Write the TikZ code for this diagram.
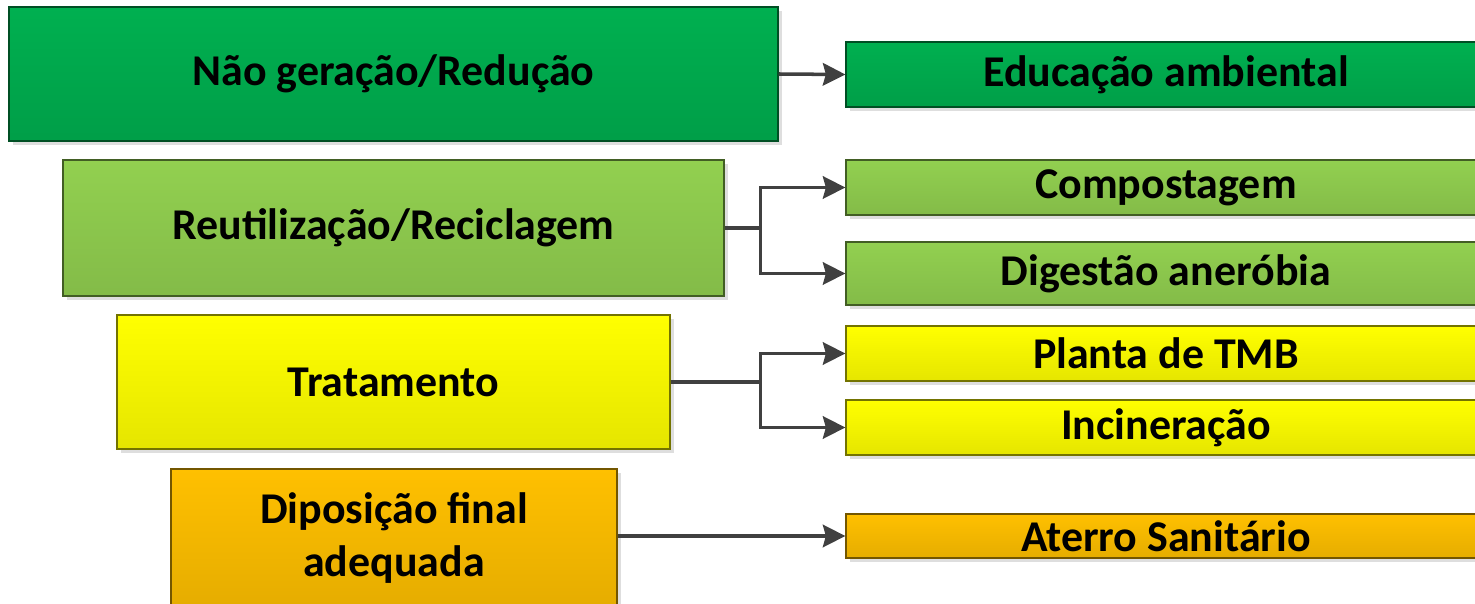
\documentclass[tikz,border=0pt]{standalone}
\usepackage{fontspec}
\setmainfont{Carlito}
\usepackage{tikz}
\usetikzlibrary{arrows.meta, positioning, shadows}

\definecolor{verdeA}{HTML}{00B050}
\definecolor{verdeB}{HTML}{92D050}
\definecolor{amarelo}{HTML}{FFFF00}
\definecolor{laranja}{HTML}{FFC000}
\definecolor{linha}{HTML}{404040}

\begin{document}
\begin{tikzpicture}[
        x=0.02cm, y=-0.02cm,
        nivel/.style={rectangle, draw=#1!45!black, line width=0.8pt,
            top color=#1, bottom color=#1!90!black,
            drop shadow={shadow xshift=0.08cm, shadow yshift=-0.08cm, fill=black!13, opacity=1},
            font=\fontsize{25}{30.5}\selectfont\bfseries, align=center, inner sep=0pt},
        acao/.style={nivel=#1, minimum width=12.8cm},
        arrow/.style={-{Stealth[length=0.45cm, width=0.45cm, inset=0.06cm]}, draw=linha, line width=2pt},
        ramo/.style={draw=linha, line width=2pt}
    ]
        \useasboundingbox (0,0) rectangle (1475,604);

        % hierarquia
        \node[nivel=verdeA, minimum width=15.38cm, minimum height=2.68cm] (naoger) at (393.5,74) {Não geração/Redução};
        \node[nivel=verdeB, minimum width=13.22cm, minimum height=2.72cm] (reuso) at (393.5,228) {Reutilização/Reciclagem};
        \node[nivel=amarelo, minimum width=11.06cm, minimum height=2.68cm] (trat) at (393.5,382) {Tratamento};
        \node[nivel=laranja, minimum width=8.92cm, minimum height=2.76cm] (dispos) at (394,538) {Diposição final\\adequada};

        % acoes
        \node[acao=verdeA, minimum height=1.3cm] (educ) at (1166,74.5) {Educação ambiental};
        \node[acao=verdeB, minimum height=1.1cm] (compost) at (1166,187.5) {Compostagem};
        \node[acao=verdeB, minimum height=1.26cm] (digest) at (1166,273.5) {Digestão aneróbia};
        \node[acao=amarelo, minimum height=1.1cm] (tmb) at (1166,353.5) {Planta de TMB};
        \node[acao=amarelo, minimum height=1.1cm] (incin) at (1166,427.5) {Incineração};
        \node[acao=laranja, minimum height=0.88cm] (aterro) at (1166,536) {Aterro Sanitário};

        % ligacoes
        \draw[arrow] (naoger.east) -- (educ.west);

        \draw[ramo] (reuso.east) -- ++(36,0) coordinate (b1);
        \draw[arrow] (b1) |- (compost.west);
        \draw[arrow] (b1) |- (digest.west);

        \draw[ramo] (trat.east) -- ++(90,0) coordinate (b2);
        \draw[arrow] (b2) |- (tmb.west);
        \draw[arrow] (b2) |- (incin.west);

        \draw[arrow] (dispos.east |- aterro.west) -- (aterro.west);
    \end{tikzpicture}
\end{document}
